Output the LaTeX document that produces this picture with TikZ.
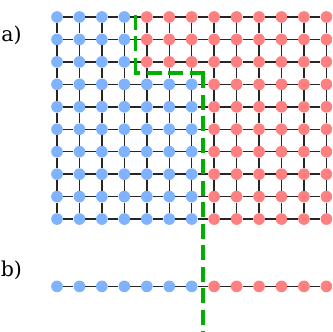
\documentclass[tikz,border=0pt]{standalone}
\usepackage{fontspec}
\setmainfont{DejaVu Serif}
\definecolor{siteblue}{RGB}{128,179,255}
\definecolor{sitered}{RGB}{255,128,128}
\definecolor{cutgreen}{RGB}{0,176,0}
\tikzset{
  site/.style={
    shape = circle,
    inner sep = 0pt,
    minimum size = 0.52cm
  },
  bluesite/.style={site, fill=siteblue},
  redsite/.style={site, fill=sitered},
  bond/.style={
    line width = 1.8pt,
    black!85
  },
  cut/.style={
    line width = 4.5pt,
    cutgreen,
    dash pattern = on 0.668cm off 0.29cm
  },
  panel/.style={
    font=\fontsize{26}{30}\selectfont
  }
}
\begin{document}
\begin{tikzpicture}
    \useasboundingbox (-2.539,0.757) rectangle (12.294,-14.03);
    % a) square lattice
    \foreach \j in {0,...,9}{
        \foreach \i in {0,...,12}{
            \pgfmathtruncatemacro{\edge}{\j<3 ? 4 : 7}
            \ifnum\i<\edge \def\kind{bluesite}\else \def\kind{redsite}\fi
            \node[\kind] (a\i-\j) at (\i,-\j) {};
        }
    }
    \foreach \j in {0,...,9}{
        \foreach \i [count=\k from 1] in {0,...,11}{
            \draw[bond] (a\i-\j) -- (a\k-\j);
        }
    }
    \foreach \i in {0,...,12}{
        \foreach \j [count=\k from 1] in {0,...,8}{
            \draw[bond] (a\i-\j) -- (a\i-\k);
        }
    }
    % b) chain
    \foreach \i in {0,...,12}{
        \ifnum\i<7 \def\kind{bluesite}\else \def\kind{redsite}\fi
        \node[\kind] (b\i) at (\i,-12) {};
    }
    \foreach \i [count=\k from 1] in {0,...,11}{
        \draw[bond] (b\i) -- (b\k);
    }
    % cuts
    \coordinate (cuttop) at (3.5,0.09);
    \coordinate (cutbend) at (3.5,-2.5);
    \coordinate (cutturn) at (6.5,-2.5);
    \coordinate (cutend) at (6.5,-14.3);
    \draw[cut] (cuttop) -- ([yshift=-2.25pt]cutbend);
    \draw[cut] ([xshift=2.25pt]cutturn) -- ([xshift=-2.25pt]cutbend);
    \draw[cut] (cutturn) -- (cutend);
    \node[panel] (la) at (-2.03,-0.8) {a)};
    \node[panel] (lb) at (-2.03,-11.3) {b)};
\end{tikzpicture}
\end{document}
